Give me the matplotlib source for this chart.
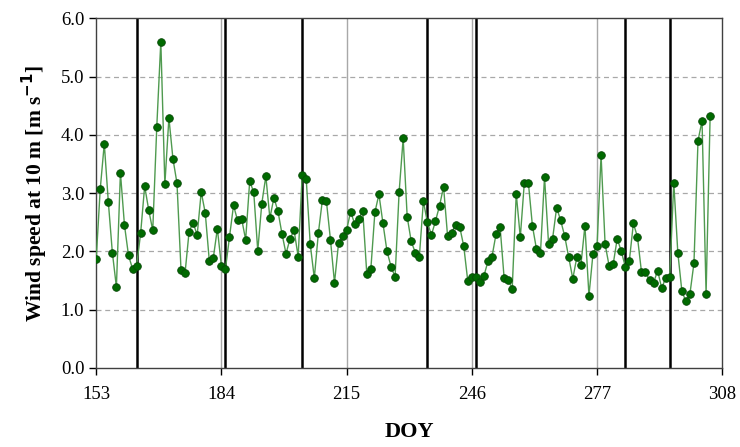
import matplotlib
matplotlib.use("Agg")
import matplotlib.pyplot as plt
from matplotlib.ticker import FormatStrFormatter

# Daily mean wind speed at 10 m (m/s), DOY 153-305
doy = list(range(153, 306))
wind = [
    1.87, 3.07, 3.85, 2.85, 1.98, 1.39, 3.35, 2.45, 1.93, 1.70,
    1.75, 2.31, 3.12, 2.71, 2.36, 4.14, 5.60, 3.15, 4.29, 3.59,
    3.17, 1.68, 1.63, 2.34, 2.49, 2.28, 3.02, 2.66, 1.84, 1.89,
    2.39, 1.75, 1.70, 2.24, 2.79, 2.53, 2.56, 2.20, 3.20, 3.02,
    2.01, 2.82, 3.29, 2.57, 2.92, 2.69, 2.30, 1.96, 2.22, 2.36,
    1.91, 3.31, 3.24, 2.12, 1.54, 2.31, 2.88, 2.86, 2.20, 1.46,
    2.14, 2.26, 2.37, 2.68, 2.47, 2.56, 2.69, 1.61, 1.70, 2.67,
    2.98, 2.48, 2.00, 1.74, 1.56, 3.02, 3.94, 2.59, 2.17, 1.98,
    1.90, 2.86, 2.50, 2.28, 2.52, 2.78, 3.11, 2.26, 2.32, 2.46,
    2.42, 2.09, 1.49, 1.56, 1.56, 1.47, 1.58, 1.83, 1.91, 2.30,
    2.42, 1.54, 1.51, 1.36, 2.99, 2.24, 3.18, 3.18, 2.44, 2.04,
    1.98, 3.28, 2.13, 2.22, 2.75, 2.53, 2.26, 1.90, 1.53, 1.90,
    1.76, 2.44, 1.24, 1.96, 2.09, 3.65, 2.12, 1.75, 1.78, 2.22,
    2.00, 1.74, 1.84, 2.48, 2.25, 1.65, 1.65, 1.50, 1.46, 1.67,
    1.37, 1.54, 1.56, 3.18, 1.98, 1.32, 1.14, 1.27, 1.80, 3.90,
    4.24, 1.27, 4.32,
]

# Period boundaries (DOY)
boundaries = [163, 185, 204, 235, 247, 284, 295]

x_ticks = [153, 184, 215, 246, 277, 308]
y_ticks = [0.0, 1.0, 2.0, 3.0, 4.0, 5.0, 6.0]

plt.rcParams['font.family'] = ['Liberation Serif', 'DejaVu Serif']

fig = plt.figure(figsize=(7.4, 4.47), dpi=100)
ax = fig.add_axes([0.130, 0.177, 0.846, 0.782])

ax.set_xlim(153, 308)
ax.set_ylim(0, 6)

# grid: solid vertical at ticks, dashed horizontal
for xt in x_ticks[1:-1]:
    ax.axvline(xt, color='#a8a8a8', lw=1.0, zorder=1)
for yt in y_ticks[1:-1]:
    ax.axhline(yt, color='#a8a8a8', lw=0.9, ls=(0, (4, 3)), zorder=1)

for b in boundaries:
    ax.axvline(b, color='black', lw=1.8, zorder=2)

ax.plot(doy, wind, color='#4f9a4f', lw=1.0, marker='o', markersize=5.5,
        markerfacecolor='#006a00', markeredgecolor='#0a4a0a',
        markeredgewidth=0.6, zorder=3)

ax.set_xticks(x_ticks)
ax.set_yticks(y_ticks)
ax.yaxis.set_major_formatter(FormatStrFormatter('%.1f'))
ax.tick_params(direction='out', length=5, width=1, labelsize=13.5,
               colors='black')
ax.tick_params(axis='x', pad=8)

for s in ax.spines.values():
    s.set_color('#404040')
    s.set_linewidth(1.0)

ax.set_ylabel('Wind speed at 10 m [m s$^{\\mathbf{-1}}$]', fontsize=15.5,
              fontweight='bold', labelpad=8)
ax.set_xlabel('DOY', fontsize=16, fontweight='bold', labelpad=14)

fig.savefig('out.png', dpi=100)
